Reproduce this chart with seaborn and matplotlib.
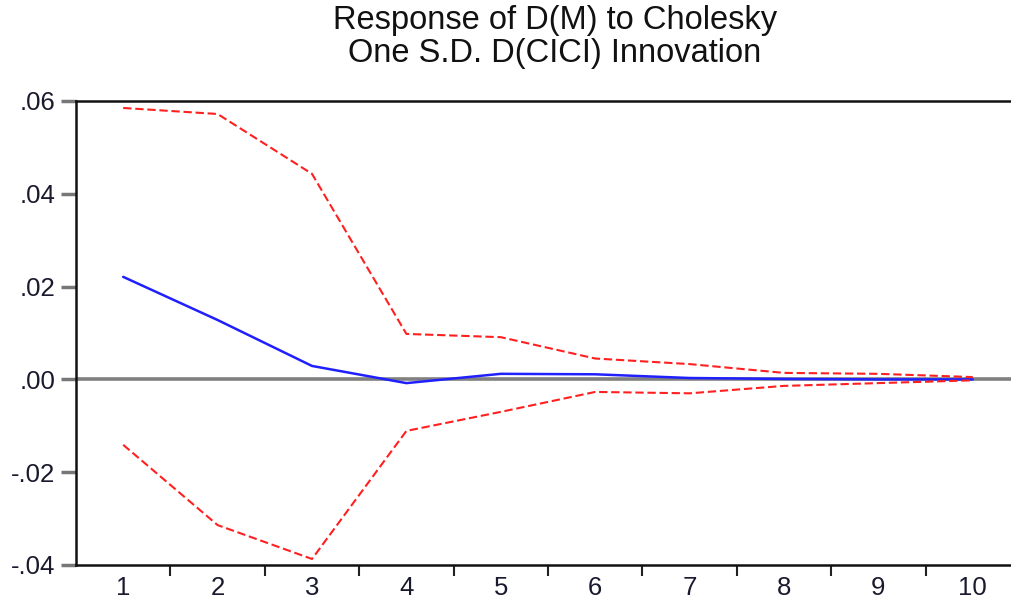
import matplotlib
matplotlib.use("Agg")
import matplotlib.pyplot as plt
import seaborn as sns
import pandas as pd
import numpy as np

periods = [1, 2, 3, 4, 5, 6, 7, 8, 9, 10]
response = [0.0221, 0.0128, 0.0029, -0.0008, 0.0012, 0.0011, 0.0003, 0.0001, 0.0000, 0.0000]
upper_band = [0.0585, 0.0572, 0.0443, 0.0098, 0.0091, 0.0045, 0.0033, 0.0014, 0.0012, 0.0005]
lower_band = [-0.0141, -0.0314, -0.0387, -0.0111, -0.0070, -0.0027, -0.0030, -0.0014, -0.0008, -0.0002]
y_ticks = [0.06, 0.04, 0.02, 0.00, -0.02, -0.04]
y_tick_labels = [".06", ".04", ".02", ".00", "-.02", "-.04"]
title = "Response of D(M) to Cholesky\nOne S.D. D(CICI) Innovation"

sns.set_theme(style="white")
plt.rcParams['font.family'] = ['Liberation Sans', 'DejaVu Sans']

df = pd.DataFrame({"period": periods, "response": response,
                   "upper": upper_band, "lower": lower_band})

fig = plt.figure(figsize=(10.11, 6.01), dpi=100)
ax = fig.add_axes([76/1011, 1-565/601, (1020-76)/1011, (565-101)/601])

ax.axhline(0, color="#808080", lw=2.6, zorder=1)
sns.lineplot(data=df, x="period", y="upper", ax=ax, color="#ff2020", lw=1.5,
             linestyle=(0, (4, 1.8)), zorder=3)
sns.lineplot(data=df, x="period", y="lower", ax=ax, color="#ff2020", lw=1.5,
             linestyle=(0, (4, 1.8)), zorder=3)
sns.lineplot(data=df, x="period", y="response", ax=ax, color="#2020ff", lw=1.8, zorder=2)

ax.set_xlim(0.5, 10.5)
ax.set_ylim(-0.04, 0.06)
ax.set_yticks(y_ticks)
ax.set_yticklabels(y_tick_labels)
ax.set_xticks(periods)
ax.set_xticklabels([str(p) for p in periods])
ax.set_xticks(np.arange(1.5, 10.5, 1.0), minor=True)
ax.tick_params(axis="x", which="major", length=0, pad=8, labelsize=18.5, labelcolor="#1a1a2e")
ax.tick_params(axis="x", which="minor", length=8, width=1.5, color="#222222", direction="out", bottom=True)
ax.tick_params(axis="y", which="major", length=11, width=2.5, color="#777777", direction="out",
               left=True, pad=4, labelsize=18.5, labelcolor="#1a1a2e")
ax.set_xlabel("")
ax.set_ylabel("")
for side in ["left", "top", "bottom"]:
    ax.spines[side].set_visible(True)
    ax.spines[side].set_color("#111111")
    ax.spines[side].set_linewidth(1.8)
ax.spines["right"].set_visible(False)

fig.text(555/1011, 1-37/601, title, ha="center", va="center", fontsize=23.5,
         color="#111111", linespacing=1.05)

fig.savefig("out.png", dpi=100)
